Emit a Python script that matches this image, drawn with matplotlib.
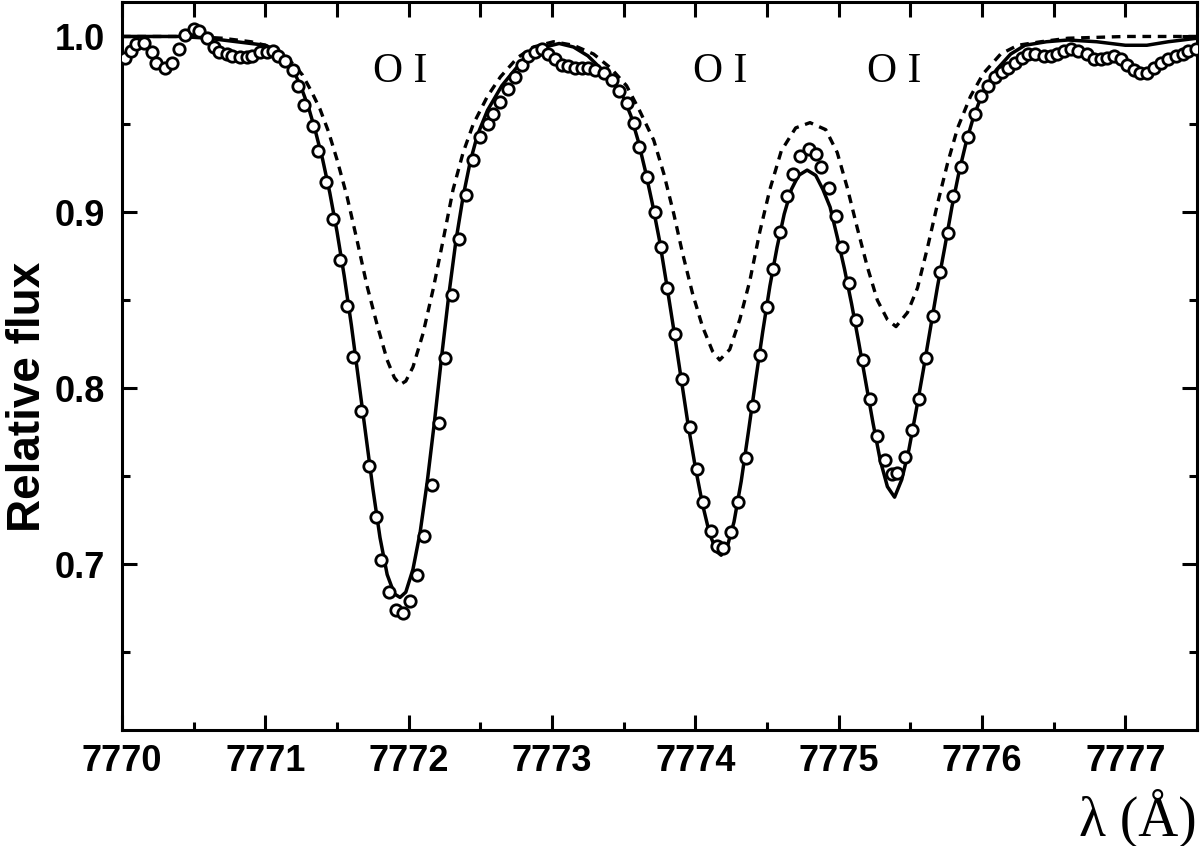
import matplotlib
matplotlib.use("Agg")
import matplotlib.pyplot as plt
from matplotlib.ticker import MultipleLocator, FormatStrFormatter

# observed spectrum (open circles)
obs_wave = [
    7770.02, 7770.06, 7770.10, 7770.15, 7770.21, 7770.24, 7770.30, 7770.35, 7770.40, 7770.44,
    7770.50, 7770.54, 7770.59, 7770.64, 7770.68, 7770.73, 7770.77, 7770.82, 7770.87, 7770.91,
    7770.96, 7771.01, 7771.05, 7771.09, 7771.14, 7771.19, 7771.23, 7771.27, 7771.33, 7771.37,
    7771.42, 7771.47, 7771.52, 7771.57, 7771.61, 7771.67, 7771.72, 7771.77, 7771.81, 7771.86,
    7771.91, 7771.96, 7772.01, 7772.06, 7772.11, 7772.16, 7772.21, 7772.25, 7772.30, 7772.35,
    7772.40, 7772.45, 7772.50, 7772.55, 7772.59, 7772.64, 7772.69, 7772.74, 7772.79, 7772.83,
    7772.88, 7772.93, 7772.97, 7773.02, 7773.07, 7773.11, 7773.16, 7773.21, 7773.25, 7773.30,
    7773.36, 7773.42, 7773.47, 7773.52, 7773.57, 7773.61, 7773.66, 7773.72, 7773.76, 7773.80,
    7773.86, 7773.91, 7773.96, 7774.01, 7774.05, 7774.11, 7774.15, 7774.19, 7774.25, 7774.30,
    7774.35, 7774.40, 7774.45, 7774.50, 7774.54, 7774.59, 7774.64, 7774.68, 7774.73, 7774.79,
    7774.84, 7774.88, 7774.93, 7774.98, 7775.02, 7775.07, 7775.12, 7775.17, 7775.22, 7775.27,
    7775.32, 7775.37, 7775.41, 7775.46, 7775.51, 7775.56, 7775.61, 7775.66, 7775.71, 7775.76,
    7775.80, 7775.85, 7775.90, 7775.95, 7775.99, 7776.04, 7776.09, 7776.14, 7776.18, 7776.23,
    7776.28, 7776.32, 7776.37, 7776.43, 7776.48, 7776.52, 7776.57, 7776.62, 7776.67, 7776.73,
    7776.78, 7776.83, 7776.87, 7776.92, 7776.97, 7777.01, 7777.06, 7777.10, 7777.15, 7777.20,
    7777.25, 7777.30, 7777.35, 7777.40, 7777.44, 7777.49,
]
obs_flux = [
    0.9875, 0.992, 0.9955, 0.996, 0.991, 0.985, 0.982, 0.985, 0.9926, 1.001,
    1.004, 1.003, 0.999, 0.994, 0.991, 0.990, 0.989, 0.9886, 0.9886, 0.989,
    0.991, 0.991, 0.992, 0.989, 0.986, 0.981, 0.972, 0.961, 0.949, 0.935,
    0.917, 0.896, 0.873, 0.847, 0.818, 0.787, 0.756, 0.727, 0.702, 0.684,
    0.674, 0.672, 0.679, 0.694, 0.716, 0.745, 0.780, 0.817, 0.853, 0.885,
    0.910, 0.930, 0.943, 0.950, 0.956, 0.963, 0.970, 0.977, 0.984, 0.989,
    0.991, 0.993, 0.990, 0.987, 0.984, 0.983, 0.982, 0.982, 0.982, 0.981,
    0.979, 0.975, 0.969, 0.962, 0.951, 0.937, 0.920, 0.900, 0.880, 0.857,
    0.831, 0.805, 0.778, 0.754, 0.735, 0.719, 0.710, 0.709, 0.718, 0.735,
    0.760, 0.790, 0.819, 0.846, 0.868, 0.889, 0.909, 0.922, 0.932, 0.936,
    0.933, 0.926, 0.914, 0.898, 0.880, 0.860, 0.839, 0.816, 0.794, 0.773,
    0.759, 0.751, 0.752, 0.761, 0.776, 0.794, 0.817, 0.841, 0.866, 0.888,
    0.909, 0.926, 0.943, 0.956, 0.966, 0.972, 0.977, 0.980, 0.982, 0.985,
    0.988, 0.990, 0.990, 0.989, 0.989, 0.990, 0.992, 0.993, 0.992, 0.990,
    0.987, 0.987, 0.988, 0.989, 0.987, 0.984, 0.981, 0.979, 0.979, 0.982,
    0.985, 0.987, 0.989, 0.990, 0.992, 0.993,
]

# synthetic spectrum, best fit (solid)
fit_wave = [
    7770.00, 7770.40, 7770.60, 7770.80, 7771.00, 7771.10, 7771.20, 7771.25, 7771.30, 7771.35,
    7771.40, 7771.45, 7771.50, 7771.55, 7771.60, 7771.65, 7771.70, 7771.75, 7771.80, 7771.85,
    7771.90, 7771.94, 7771.98, 7772.03, 7772.08, 7772.13, 7772.18, 7772.23, 7772.28, 7772.33,
    7772.38, 7772.43, 7772.48, 7772.55, 7772.65, 7772.75, 7772.85, 7772.95, 7773.05, 7773.15,
    7773.25, 7773.35, 7773.45, 7773.50, 7773.55, 7773.60, 7773.65, 7773.70, 7773.75, 7773.80,
    7773.85, 7773.90, 7773.95, 7774.00, 7774.05, 7774.10, 7774.15, 7774.18, 7774.22, 7774.27,
    7774.32, 7774.37, 7774.42, 7774.47, 7774.52, 7774.57, 7774.62, 7774.67, 7774.72, 7774.78,
    7774.84, 7774.89, 7774.94, 7774.99, 7775.04, 7775.09, 7775.14, 7775.19, 7775.24, 7775.29,
    7775.34, 7775.39, 7775.44, 7775.49, 7775.54, 7775.59, 7775.64, 7775.69, 7775.74, 7775.79,
    7775.84, 7775.89, 7775.94, 7776.00, 7776.10, 7776.20, 7776.30, 7776.45, 7776.60, 7776.80,
    7777.00, 7777.15, 7777.30, 7777.50,
]
fit_flux = [
    1.000, 1.000, 0.999, 0.997, 0.995, 0.991, 0.980, 0.971, 0.960, 0.946,
    0.930, 0.911, 0.889, 0.864, 0.836, 0.805, 0.774, 0.743, 0.715, 0.694,
    0.683, 0.681, 0.684, 0.697, 0.718, 0.747, 0.781, 0.818, 0.853, 0.884,
    0.909, 0.929, 0.944, 0.958, 0.972, 0.982, 0.990, 0.994, 0.996, 0.994,
    0.989, 0.981, 0.972, 0.965, 0.955, 0.941, 0.924, 0.905, 0.884, 0.859,
    0.833, 0.806, 0.779, 0.755, 0.734, 0.717, 0.707, 0.705, 0.709, 0.724,
    0.747, 0.775, 0.804, 0.832, 0.858, 0.880, 0.899, 0.913, 0.921, 0.924,
    0.921, 0.913, 0.903, 0.886, 0.868, 0.848, 0.826, 0.803, 0.780, 0.759,
    0.744, 0.738, 0.748, 0.765, 0.787, 0.810, 0.834, 0.858, 0.880, 0.903,
    0.923, 0.940, 0.954, 0.967, 0.981, 0.990, 0.995, 0.997, 0.998, 0.997,
    0.995, 0.995, 0.997, 0.999,
]

# synthetic spectrum, second model (dashed)
alt_wave = [
    7770.00, 7770.50, 7770.70, 7770.90, 7771.00, 7771.10, 7771.20, 7771.26, 7771.32, 7771.38,
    7771.44, 7771.50, 7771.57, 7771.64, 7771.71, 7771.78, 7771.85, 7771.90, 7771.94, 7771.98,
    7772.03, 7772.10, 7772.17, 7772.24, 7772.31, 7772.38, 7772.45, 7772.55, 7772.64, 7772.76,
    7772.87, 7773.01, 7773.15, 7773.29, 7773.41, 7773.52, 7773.61, 7773.71, 7773.78, 7773.85,
    7773.91, 7773.98, 7774.05, 7774.12, 7774.17, 7774.24, 7774.31, 7774.38, 7774.45, 7774.52,
    7774.60, 7774.70, 7774.80, 7774.91, 7774.99, 7775.06, 7775.13, 7775.20, 7775.27, 7775.34,
    7775.40, 7775.48, 7775.55, 7775.62, 7775.69, 7775.76, 7775.83, 7775.92, 7776.01, 7776.13,
    7776.25, 7776.41, 7776.60, 7777.00, 7777.50,
]
alt_flux = [
    1.000, 1.000, 0.999, 0.997, 0.995, 0.991, 0.984, 0.978, 0.969, 0.959,
    0.946, 0.930, 0.909, 0.884, 0.858, 0.836, 0.816, 0.806, 0.802, 0.804,
    0.812, 0.831, 0.856, 0.884, 0.913, 0.934, 0.950, 0.966, 0.977, 0.988,
    0.994, 0.997, 0.995, 0.990, 0.982, 0.972, 0.958, 0.941, 0.922, 0.899,
    0.877, 0.854, 0.835, 0.821, 0.816, 0.822, 0.839, 0.861, 0.889, 0.913,
    0.935, 0.948, 0.951, 0.947, 0.934, 0.914, 0.891, 0.869, 0.850, 0.839,
    0.835, 0.843, 0.857, 0.880, 0.905, 0.928, 0.948, 0.966, 0.979, 0.990,
    0.995, 0.997, 0.999, 1.000, 1.000,
]

# O I triplet line labels
line_labels = ["O I", "O I", "O I"]
line_centers = [7771.94, 7774.17, 7775.39]

fig = plt.figure(figsize=(12, 8.46), dpi=100)
ax = fig.add_axes([122 / 1200, 1 - 730 / 846, 1075 / 1200, 728 / 846])

ax.plot(fit_wave, fit_flux, color="black", lw=2.5, zorder=2)
ax.plot(alt_wave, alt_flux, color="black", lw=2.4, linestyle=(0, (2.6, 2.0)), zorder=2)
ax.plot(obs_wave, obs_flux, linestyle="none", marker="o", ms=8.2, mew=2.0,
        mfc="white", mec="black", zorder=3)

for lbl, xc in zip(line_labels, line_centers):
    ax.text(xc, 0.980, lbl, ha="center", va="center", fontsize=30,
            family="Liberation Serif")

ax.set_xlim(7770, 7777.5)
ax.set_ylim(0.6056, 1.0196)

ax.xaxis.set_major_locator(MultipleLocator(1))
ax.xaxis.set_minor_locator(MultipleLocator(0.5))
ax.yaxis.set_minor_locator(MultipleLocator(0.05))
ax.set_yticks([0.7, 0.8, 0.9, 1.0])
ax.yaxis.set_major_formatter(FormatStrFormatter("%.1f"))

ax.tick_params(which="both", direction="in", width=2.2, left=True, right=True,
               bottom=True, top=True)
ax.tick_params(which="major", length=10.5)
ax.tick_params(which="minor", length=5.5)
ax.tick_params(axis="x", which="major", pad=10)
ax.tick_params(axis="y", which="major", pad=12)

# the top axis has all ticks of equal (long) length
n_minor = len(ax.xaxis.get_minorticklocs())
for t in ax.xaxis.get_minor_ticks(n_minor):
    t.tick2line.set_markersize(10.5)

for lab in ax.get_xticklabels() + ax.get_yticklabels():
    lab.set_fontsize(26)
    lab.set_fontweight("bold")
    lab.set_family("Liberation Sans")

for sp in ax.spines.values():
    sp.set_linewidth(2.2)

fig.text(28 / 1200, 1 - 397 / 846, "Relative flux", rotation=90, ha="center",
         va="center", fontsize=33, fontweight="bold", family="Liberation Sans")
fig.text(1197 / 1200, 1 - 818 / 846, "λ (Å)", ha="right", va="center",
         fontsize=40, family="Liberation Serif")

fig.savefig("out.png", dpi=100)
